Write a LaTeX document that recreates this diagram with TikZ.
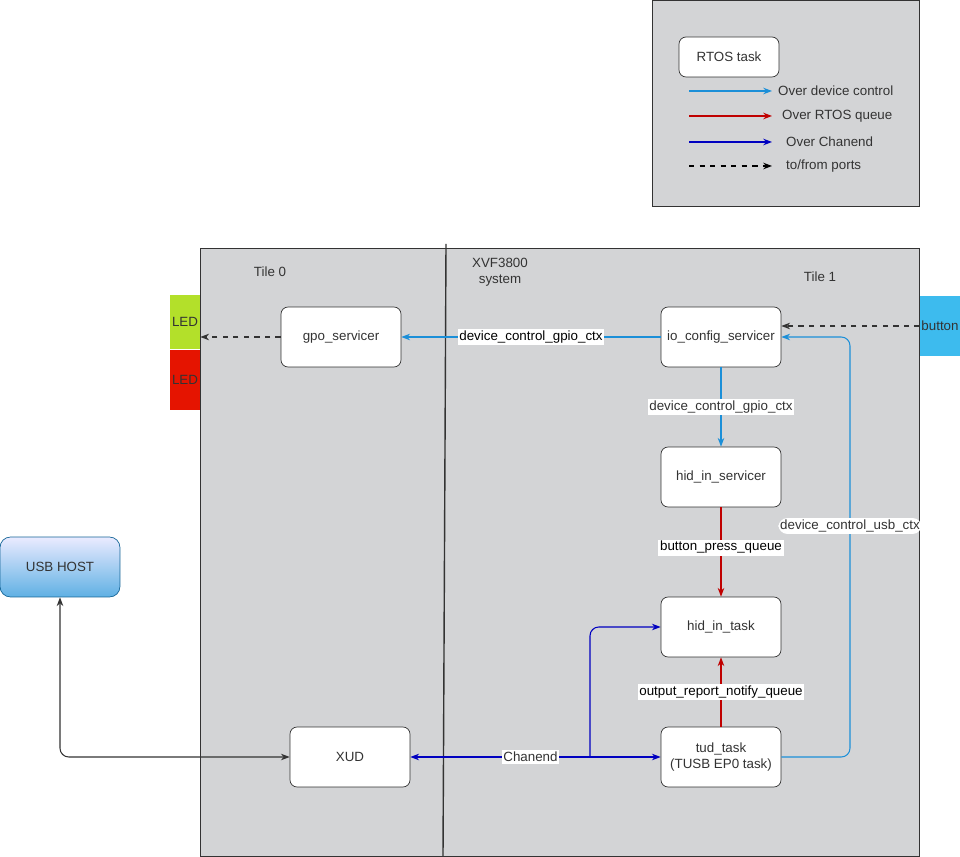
\documentclass[tikz,border=0pt]{standalone}
\usepackage{fontspec}
\setmainfont{Liberation Sans}
\usetikzlibrary{arrows.meta}
\definecolor{panel}{HTML}{D3D4D6}
\definecolor{ctrlblue}{HTML}{1B8FD8}
\definecolor{qred}{HTML}{C00000}
\definecolor{chblue}{HTML}{0000C0}
\definecolor{txtgray}{HTML}{333333}
\begin{document}
\begin{tikzpicture}[x=0.02cm,y=-0.02cm,
    font=\fontsize{7.6}{9.2}\selectfont, text=txtgray,
    task/.style={draw=txtgray, fill=white, rounded corners=4pt, minimum width=2.4cm, minimum height=1.2cm, align=center},
    lbl/.style={fill=white, inner sep=1pt, text=txtgray},
    ctrl/.style={draw=ctrlblue, line width=0.6pt, -{Stealth[length=5pt]}},
    queue/.style={draw=qred, line width=0.6pt, -{Stealth[length=5pt]}},
    chan/.style={draw=chblue, line width=0.6pt, {Stealth[length=5pt]}-{Stealth[length=5pt]}},
    port/.style={draw=txtgray, line width=0.6pt, dashed, -{Stealth[length=5pt]}}]

    % page size
    \useasboundingbox (0,0) rectangle (960,857);

    % legend
    \draw[fill=panel, draw=txtgray] (652,0) rectangle (919,206);
    \node[task, minimum width=2cm, minimum height=0.8cm] (rtos) at (729,57) {RTOS task};
    \coordinate (l1a) at (689,91);  \coordinate (l1b) at (772,91);
    \coordinate (l2a) at (689,116); \coordinate (l2b) at (772,116);
    \coordinate (l3a) at (689,142); \coordinate (l3b) at (772,142);
    \coordinate (l4a) at (689,166); \coordinate (l4b) at (772,166);
    \draw[ctrl] (l1a) -- (l1b);
    \draw[queue] (l2a) -- (l2b);
    \draw[draw=chblue, line width=0.6pt, -{Stealth[length=5pt]}] (l3a) -- (l3b);
    \draw[port, draw=black] (l4a) -- (l4b);
    \node[anchor=west] at (772,91) {Over device control};
    \node[anchor=west] at (776,116) {Over RTOS queue};
    \node[anchor=west] at (780,142) {Over Chanend};
    \node[anchor=west] at (780,166) {to/from ports};

    % system
    \draw[fill=panel, draw=txtgray] (200,248) rectangle (919,856);
    \draw[txtgray, thick] (446,244) -- (443,856);
    \node at (270,272) {Tile 0};
    \node[align=center] at (500,272) {XVF3800\\system};
    \node at (820,277) {Tile 1};

    % ports
    \node[draw=none, fill={rgb,255:red,179;green,224;blue,42}, minimum width=0.6cm, minimum height=1.1cm, inner sep=0pt] (ledg) at (185,322) {LED};
    \node[draw=none, fill={rgb,255:red,229;green,20;blue,0}, minimum width=0.6cm, minimum height=1.2cm, inner sep=0pt] (ledr) at (185,380) {LED};
    \node[draw=none, fill={rgb,255:red,61;green,187;blue,238}, minimum width=0.8cm, minimum height=1.2cm, inner sep=0pt] (button) at (940,326) {button};

    % tasks
    \node[task] (gpo) at (341,337) {gpo\_servicer};
    \node[task] (ioc) at (721,337) {io\_config\_servicer};
    \node[task] (hids) at (721,477) {hid\_in\_servicer};
    \node[task] (hidt) at (721,627) {hid\_in\_task};
    \node[task] (tud) at (721,757) {tud\_task\\(TUSB EP0 task)};
    \node[task] (xud) at (350,757) {XUD};
    \node[task, draw=ctrlblue!70!black, top color=blue!8, bottom color=ctrlblue!70, rounded corners=6pt] (host) at (60,567) {USB HOST};

    % connectors
    \draw[ctrl] (ioc) -- node[lbl, text=black] {device\_control\_gpio\_ctx} (gpo);
    \draw[port] (gpo) -- (ledg.east |- gpo);
    \draw[port] (button.west |- 0,326) -- (ioc.east |- 0,326);
    \draw[ctrl] (ioc) -- node[lbl, pos=0.5] {device\_control\_gpio\_ctx} (hids);
    \draw[queue] (hids) -- node[lbl, text=black, pos=0.45] {button\_press\_queue} (hidt);
    \draw[queue] (tud) -- node[lbl, text=black] {output\_report\_notify\_queue} (hidt);
    \coordinate (usbc) at (850,757);
    \draw[ctrl, rounded corners=5pt] (tud) -- (usbc) -- node[lbl, pos=0.55] {device\_control\_usb\_ctx} (850,337) -- (ioc);
    \draw[chan] (xud) -- node[lbl, pos=0.48] {Chanend} (tud);
    \coordinate (fork) at (590,757);
    \draw[draw=chblue, line width=0.6pt, -{Stealth[length=5pt]}, rounded corners=5pt] (fork) -- (590,627) -- (hidt);
    \draw[draw=txtgray, line width=0.6pt, {Stealth[length=5pt]}-{Stealth[length=5pt]}, rounded corners=5pt] (host) -- (60,757) -- (xud);

\end{tikzpicture}
\end{document}
